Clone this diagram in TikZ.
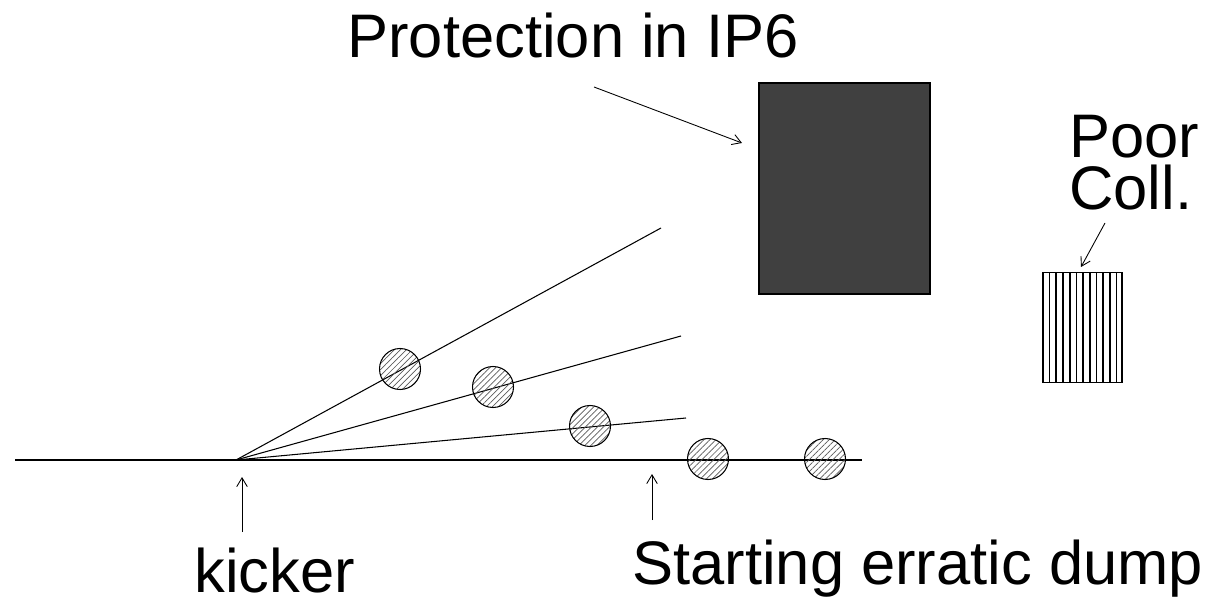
\documentclass[tikz,border=0pt]{standalone}
\usepackage{fontspec}
\setmainfont{Liberation Sans}
\usetikzlibrary{arrows.meta,patterns.meta}
\begin{document}
\begin{tikzpicture}[x=0.02cm,y=-0.02cm,
  beamline/.style={line width=0.6pt},
  bunch/.style={circle,draw,line width=0.6pt,inner sep=0pt,minimum size=0.82cm,
    pattern={Lines[angle=45,distance=2.4pt,line width=0.4pt]},pattern color=black!65},
  pointer/.style={line width=0.5pt,-{Straight Barb[length=5pt,width=6pt]}},
  label/.style={inner sep=0pt,font=\fontsize{35}{35}\selectfont}]
\useasboundingbox (0,0) rectangle (1218,601);
% beam line
\coordinate (lstart) at (15,460);
\coordinate (lend) at (862,460);
\coordinate (kick) at (236,460);
\coordinate (e1) at (661,228);
\coordinate (e2) at (681,336);
\coordinate (e3) at (686,418);
\draw[beamline] (lstart) -- (lend);
\draw[beamline] (kick) -- (e1);
\draw[beamline] (kick) -- (e2);
\draw[beamline] (kick) -- (e3);
% bunches
\node[bunch] (b1) at (400,369) {};
\node[bunch] (b2) at (493,387) {};
\node[bunch] (b3) at (590,426) {};
\node[bunch] (b4) at (708,459) {};
\node[bunch] (b5) at (825,459) {};
% protection block
\node[draw,fill={rgb,255:red,64;green,64;blue,64},line width=0.6pt,inner sep=0pt,
  minimum width=3.42cm,minimum height=4.22cm] (prot) at (844.5,188.5) {};
% poor collimator
\node[draw,line width=0.6pt,inner sep=0pt,minimum width=1.58cm,minimum height=2.2cm] (coll) at (1082.5,327.5) {};
\foreach \x in {1049.5,1056,1063,1070,1076.5,1083,1090,1096.5,1103,1110,1116.5}
  \draw[line width=0.9pt] (\x,273) -- (\x,382);
% labels
\node[label,anchor=base west] (tprot) at (347,58) {Protection in IP6};
\node[inner sep=0pt,anchor=base west,align=left,font=\fontsize{35}{30}\selectfont] (tpoor) at (1069,210) {Poor\\Coll.};
\node[label,anchor=base west] (tkick) at (194,592) {kicker};
\node[label,anchor=base west] (tdump) at (632,584) {Starting erratic dump};
% pointers
\coordinate (p1s) at (594,87);
\coordinate (p1e) at (742,143);
\draw[pointer] (p1s) -- (p1e);
\coordinate (p2s) at (1105,223);
\coordinate (p2e) at (1081,267);
\draw[pointer] (p2s) -- (p2e);
\coordinate (p3s) at (242,532);
\coordinate (p3e) at (242,477);
\draw[pointer] (p3s) -- (p3e);
\coordinate (p4s) at (652,520);
\coordinate (p4e) at (652,474);
\draw[pointer] (p4s) -- (p4e);
\end{tikzpicture}
\end{document}
